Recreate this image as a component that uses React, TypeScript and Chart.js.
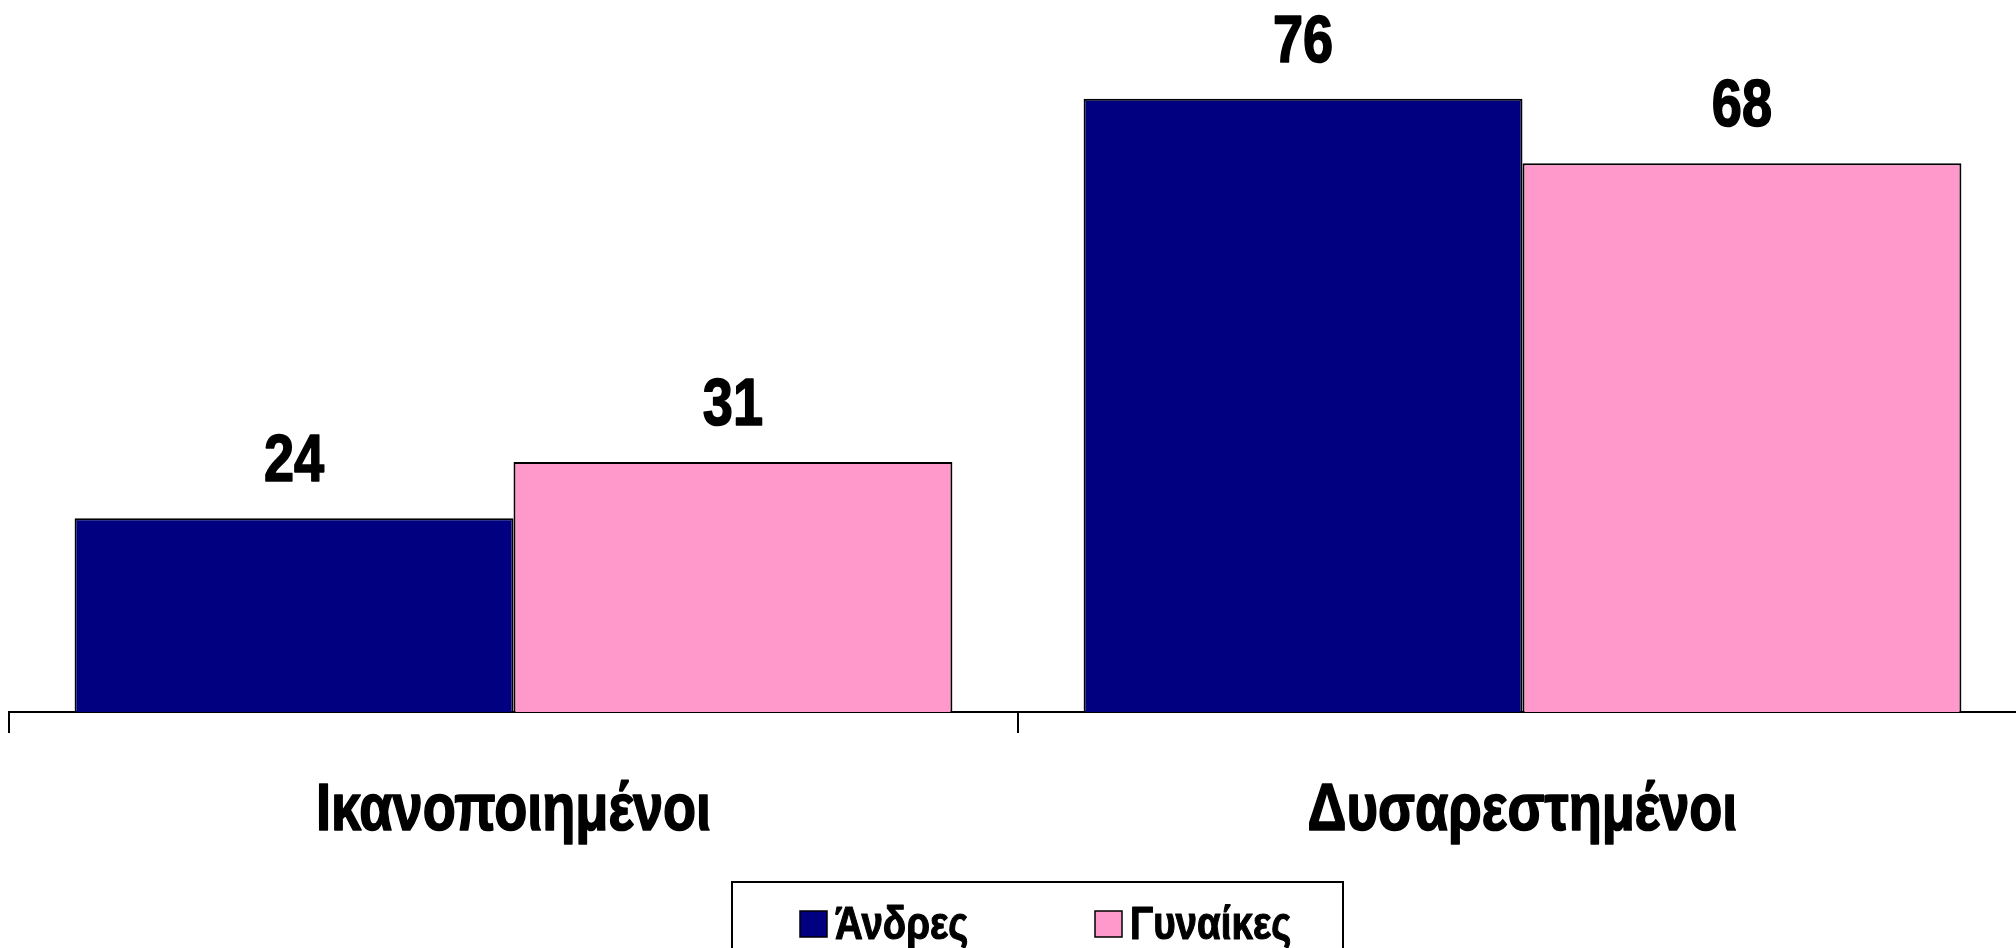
import React, { useEffect, useRef } from "react";
import { Chart, registerables } from "chart.js";

Chart.register(...registerables);

const categories = ["Ικανοποιημένοι", "Δυσαρεστημένοι"];
const seriesNames = ["Άνδρες", "Γυναίκες"];
const menValues = [24, 76];
const womenValues = [31, 68];
const seriesColors = ["#000080", "#FF99CC"];

const FONT = "'Liberation Sans', Arial, sans-serif";
const NARROW = 0.82;

function narrowText(ctx: CanvasRenderingContext2D, text: string, x: number, y: number, size: number, align: CanvasTextAlign) {
  ctx.save();
  ctx.translate(x, y);
  ctx.scale(NARROW, 1);
  ctx.font = `bold ${size}px ${FONT}`;
  ctx.textAlign = align;
  ctx.textBaseline = "alphabetic";
  ctx.fillStyle = "#000";
  ctx.strokeStyle = "#000";
  ctx.lineWidth = size * 0.025;
  ctx.lineJoin = "round";
  ctx.fillText(text, 0, 0);
  ctx.strokeText(text, 0, 0);
  ctx.restore();
}

export default function App() {
  const ref = useRef<HTMLCanvasElement>(null);

  useEffect(() => {
    const canvas = ref.current!;

    const valueLabels = {
      id: "valueLabels",
      afterDatasetsDraw(chart: any) {
        const ctx = chart.ctx;
        chart.data.datasets.forEach((ds: any, i: number) => {
          const meta = chart.getDatasetMeta(i);
          meta.data.forEach((el: any, j: number) => {
            narrowText(ctx, String(ds.data[j]), el.x, el.y - 37, 66, "center");
          });
        });
        const xs = chart.scales.x;
        chart.data.labels.forEach((lab: string, i: number) => {
          narrowText(ctx, lab, xs.getPixelForValue(i), 830, 66, "center");
        });
      },
    };

    const legendBox = {
      id: "legendBox",
      afterDraw(chart: any) {
        const ctx = chart.ctx;
        ctx.save();
        ctx.lineWidth = 2;
        ctx.strokeStyle = "#000";
        ctx.strokeRect(732, 882, 611, 120);
        const swatchX = [800, 1095];
        chart.data.datasets.forEach((ds: any, i: number) => {
          ctx.fillStyle = ds.backgroundColor;
          ctx.fillRect(swatchX[i], 911, 27, 26);
          ctx.lineWidth = 1.5;
          ctx.strokeStyle = "#000";
          ctx.strokeRect(swatchX[i], 911, 27, 26);
          narrowText(ctx, ds.label, swatchX[i] + 35, 939, 47, "left");
        });
        ctx.restore();
      },
    };

    const chart = new Chart(canvas, {
      type: "bar",
      data: {
        labels: categories,
        datasets: [
          {
            label: seriesNames[0],
            data: menValues,
            backgroundColor: seriesColors[0],
            borderColor: "#000",
            borderWidth: 2,
            categoryPercentage: 0.87,
            barPercentage: 1,
          },
          {
            label: seriesNames[1],
            data: womenValues,
            backgroundColor: seriesColors[1],
            borderColor: "#000",
            borderWidth: 2,
            categoryPercentage: 0.87,
            barPercentage: 1,
          },
        ],
      },
      options: {
        responsive: false,
        animation: false,
        devicePixelRatio: 1,
        layout: { padding: { left: 9, right: 13, top: 2, bottom: 0 } },
        plugins: {
          legend: { display: false },
          tooltip: { enabled: false },
        },
        scales: {
          x: {
            offset: true,
            grid: {
              offset: true,
              display: true,
              drawOnChartArea: false,
              drawTicks: true,
              tickLength: 21,
              color: "#000",
              tickColor: "#000",
              lineWidth: 2,
              tickWidth: 2,
            },
            border: { display: true, color: "#000", width: 2 },
            ticks: { display: false },
            afterFit: (s: any) => {
              s.height = 236;
            },
          },
          y: { display: false, min: 0, max: 88 },
        },
      },
      plugins: [valueLabels, legendBox],
    } as any);

    return () => chart.destroy();
  }, []);

  return (
    <div
      style={{
        position: "fixed",
        left: 0,
        top: 0,
        width: 2016,
        height: 948,
        overflow: "hidden",
        background: "#fff",
      }}
    >
      <canvas ref={ref} width={2040} height={948} style={{ display: "block", width: 2040, height: 948 }} />
    </div>
  );
}
